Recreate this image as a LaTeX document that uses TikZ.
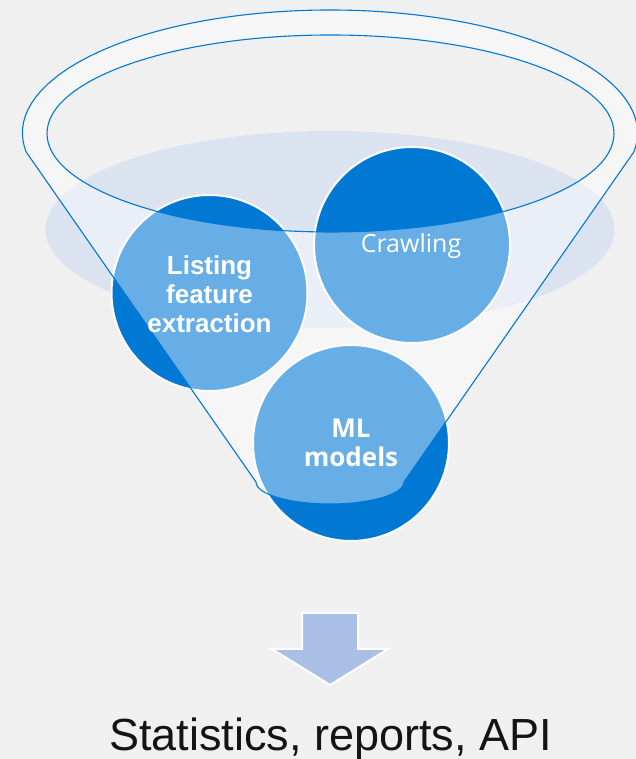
\documentclass[tikz,border=0pt]{standalone}
\usepackage{fontspec}
\setmainfont{Liberation Sans}
\newfontfamily\segoe{Open Sans}
\definecolor{bg}{HTML}{F0F0F0}
\definecolor{msblue}{HTML}{0078D4}
\definecolor{pool}{HTML}{DCE3F0}
\definecolor{arrowblue}{HTML}{A9BFE6}
\definecolor{txtdark}{HTML}{141414}
\begin{document}
\begin{tikzpicture}[x=1pt,y=1pt,
  ball/.style={circle, fill=msblue, draw=white, line width=2pt, minimum size=196pt, inner sep=0pt},
  funnelline/.style={draw=msblue, line width=1.1pt},
  whitetxt/.style={text=white, align=center, inner sep=0pt}]
\fill[bg] (0,0) rectangle (636,759);
\useasboundingbox (0,0) rectangle (636,759);
% liquid surface
\fill[pool] (330,529.5) ellipse [x radius=284.5, y radius=98.5];
% balls
\node[ball] (crawl) at (412,514) {};
\node[ball] (listing) at (209.5,466) {};
\node[ball] (ml) at (351,316) {};
% funnel body
\path[funnelline, fill=white, fill opacity=0.4, even odd rule]
  (330,626) ++(188.9:307.5 and 123)
  arc[start angle=188.9, end angle=-8.9, x radius=307.5, y radius=123]
  -- (404,277) arc[start angle=0, end angle=-180, x radius=74, y radius=22]
  -- cycle
  (330.5,625.5) ellipse [x radius=283.5, y radius=98.5];
% labels
\node[whitetxt, font=\bfseries\fontsize{26}{29}\selectfont] (listingtxt) at (209.5,465) {Listing\\feature\\extraction};
\node[whitetxt, font=\segoe\fontsize{25}{30}\selectfont, anchor=base] (crawltxt) at (411,506) {Crawling};
\node[whitetxt, font=\segoe\bfseries\fontsize{26}{29}\selectfont] (mltxt) at (ml) {ML\\models};
% arrow
\path[fill=arrowblue, draw=white, line width=2pt]
  (302,146) -- (358,146) -- (358,110) -- (388,110) -- (330,74) -- (272,110) -- (302,110) -- cycle;
\node[font=\fontsize{45}{54}\selectfont, text=txtdark, anchor=base, inner sep=0pt] (result) at (330.5,9) {Statistics, reports, API};
\end{tikzpicture}
\end{document}
